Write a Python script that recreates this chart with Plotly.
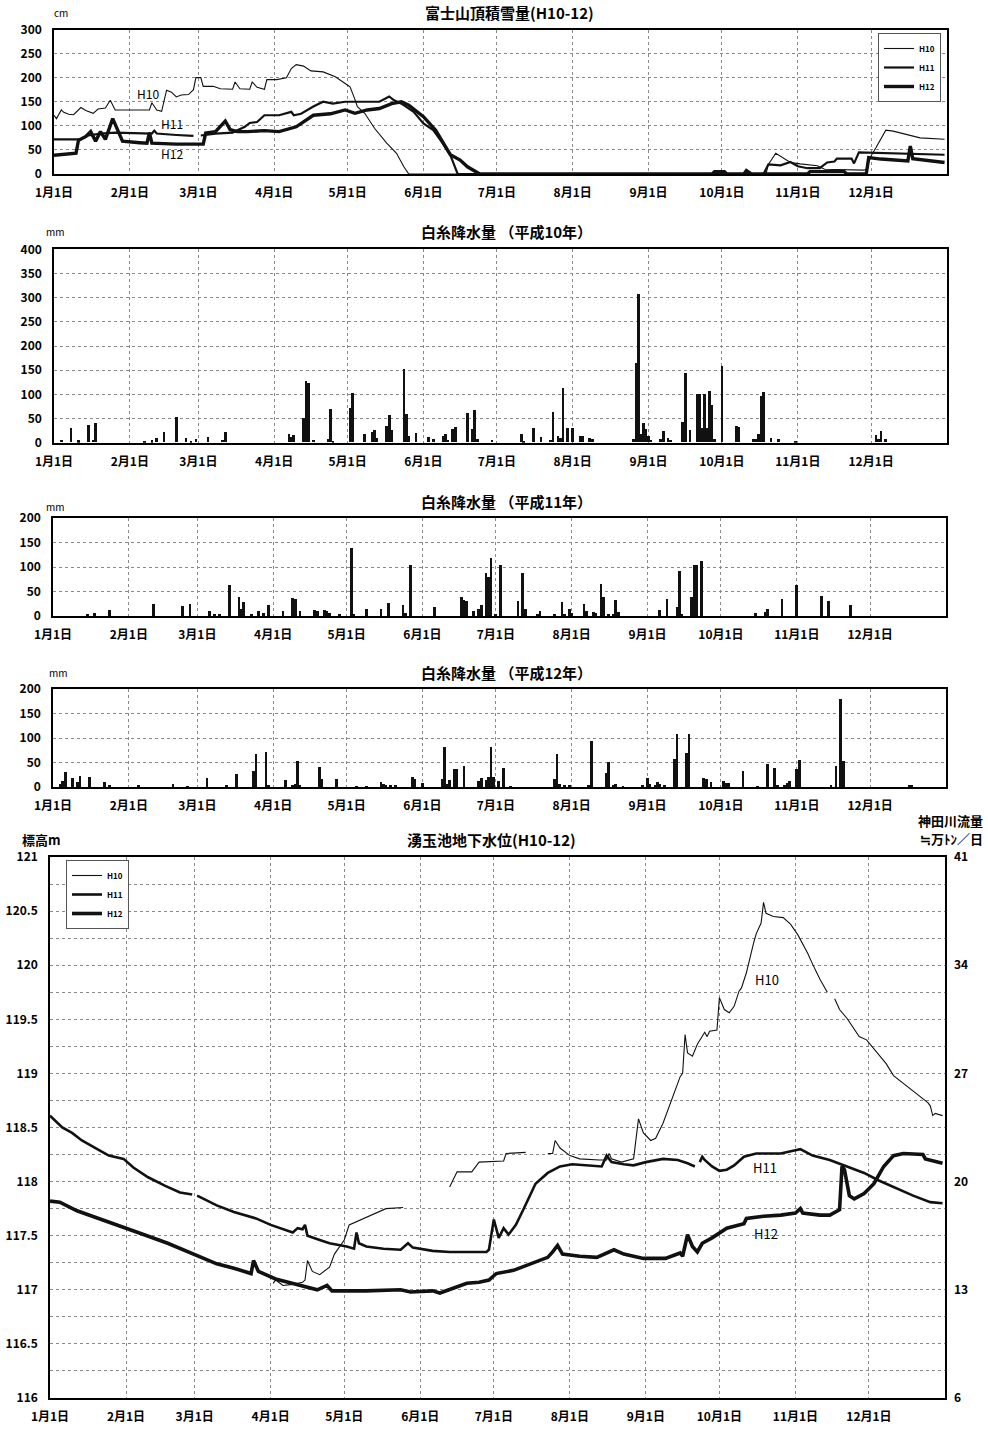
import plotly.graph_objects as go

YEAR = "2001-"
FONT = "Noto Sans CJK JP"

month_ticks = ["01-01", "02-01", "03-01", "04-01", "05-01", "06-01",
               "07-01", "08-01", "09-01", "10-01", "11-01", "12-01"]
month_labels = ["1月1日", "2月1日", "3月1日", "4月1日", "5月1日", "6月1日",
                "7月1日", "8月1日", "9月1日", "10月1日", "11月1日", "12月1日"]

# ---------------- 富士山頂積雪量 (cm) ----------------
snow_h10_dates = ["01-01", "01-02", "01-04", "01-05", "01-07", "01-09", "01-12", "01-14", "01-17", "01-19",
                  "01-22", "01-24", "01-26", "02-09", "02-10", "02-12", "02-14", "02-16", "02-18", "02-20",
                  "02-22", "02-25", "02-27", "02-28", "03-02", "03-03", "03-07", "03-10", "03-15", "03-16",
                  "03-18", "03-22", "03-23", "03-25", "03-28", "03-29", "04-02", "04-06", "04-08", "04-10",
                  "04-13", "04-16", "04-21", "04-26", "04-30", "05-02", "05-04", "05-05", "05-08", "05-12",
                  "05-17", "05-21", "05-24", "05-26", "10-19", "10-20", "10-23", "10-29", "11-02", "11-09",
                  "11-12", "11-28", "11-29", "12-01", "12-03", "12-07", "12-10", "12-16", "12-21", "12-31"]
snow_h10_cm = [122, 115, 133, 128, 124, 123, 138, 132, 126, 135,
               137, 153, 133, 133, 148, 133, 130, 174, 170, 160,
               164, 165, 175, 200, 200, 182, 182, 177, 176, 191,
               177, 176, 191, 180, 176, 196, 196, 200, 219, 227,
               224, 214, 212, 202, 188, 181, 155, 140, 126, 95,
               64, 43, 15, 0, 0, 20, 43, 24, 21, 17,
               10, 8, 10, 38, 55, 91, 89, 82, 75, 72]

snow_h11_dates = ["01-01", "01-12", "01-15", "01-20", "01-26", "02-05", "02-10", "02-11", "02-12", "02-20",
                  "02-27", "02-28", "03-02", "03-08", "03-15", "03-20", "03-22", "03-25", "03-28", "04-03",
                  "04-08", "04-09", "04-12", "04-17", "04-21", "04-25", "04-30", "05-14", "05-18", "05-20",
                  "05-23", "05-28", "06-01", "06-05", "06-09", "06-12", "06-15", "10-18", "10-20", "10-25",
                  "10-29", "11-01", "11-05", "11-10", "11-13", "11-16", "11-17", "11-23", "11-24", "11-26",
                  "12-31"]
snow_h11_cm = [72, 72, 80, 84, 86, 85, 84, 90, 84, 81,
               79, None, 80, 84, 86, 98, 106, 108, 122, 122,
               129, 122, 125, 140, 150, 146, 150, 150, 161, 153,
               146, 129, 105, 91, 63, 39, 0, 0, 20, 18,
               25, 16, 12, 12, 24, 26, 32, 32, 22, 45,
               40]

snow_h12_dates = ["01-01", "01-10", "01-11", "01-14", "01-16", "01-18", "01-20", "01-22", "01-25", "01-27",
                  "01-29", "02-05", "02-08", "02-09", "02-10", "02-20", "03-03", "03-04", "03-08", "03-12",
                  "03-14", "03-17", "03-21", "03-28", "04-03", "04-10", "04-17", "04-24", "04-30", "05-04",
                  "05-09", "05-14", "05-19", "05-23", "05-26", "06-01", "06-06", "06-10", "06-12", "06-16",
                  "06-19", "06-23", "06-24", "09-27", "09-28", "10-02", "10-03", "10-10", "10-11", "10-13",
                  "11-05", "11-06", "11-20", "11-21", "11-29", "11-30", "12-05", "12-16", "12-17", "12-18",
                  "12-22", "12-31"]
snow_h12_cm = [39, 43, 70, 78, 88, 68, 88, 72, 115, 90,
               68, 65, 64, 86, 64, 62, 62, 85, 88, 110,
               92, 88, 88, 90, 88, 98, 122, 125, 133, 126,
               133, 136, 146, 150, 143, 119, 91, 57, 40, 29,
               15, 3, 0, 0, 5, 5, 0, 0, 7, 0,
               0, 5, 5, 0, 0, 34, 31, 27, 58, 32,
               30, 24]

# ---------------- 白糸降水量 (mm) ----------------
rain_h10_dates = ["01-04", "01-08", "01-11", "01-15", "01-17", "01-18", "02-07", "02-10", "02-12", "02-15",
                  "02-20", "02-24", "02-26", "02-28", "03-05", "03-11", "03-12", "04-07", "04-08", "04-09",
                  "04-13", "04-14", "04-15", "04-17", "04-23", "04-24", "04-25", "05-02", "05-03", "05-08",
                  "05-11", "05-12", "05-13", "05-17", "05-18", "05-19", "05-24", "05-25", "05-26", "05-29",
                  "06-03", "06-05", "06-09", "06-10", "06-11", "06-13", "06-14", "06-19", "06-21", "06-22",
                  "06-23", "06-29", "07-11", "07-12", "07-16", "07-19", "07-23", "07-24", "07-26", "07-27",
                  "07-28", "07-30", "08-01", "08-04", "08-05", "08-08", "08-09", "08-26", "08-27", "08-28",
                  "08-29", "08-30", "08-31", "09-01", "09-02", "09-06", "09-07", "09-09", "09-10", "09-15",
                  "09-16", "09-18", "09-21", "09-22", "09-23", "09-24", "09-25", "09-26", "09-27", "09-28",
                  "10-01", "10-07", "10-08", "10-14", "10-15", "10-16", "10-17", "10-18", "10-21", "10-24",
                  "10-31", "12-03", "12-04", "12-05", "12-07"]
rain_h10_mm = [5, 30, 4, 37, 5, 40, 3, 4, 9, 21,
               52, 9, 3, 8, 12, 5, 21, 17, 11, 16,
               50, 128, 122, 6, 8, 70, 3, 71, 103, 18,
               21, 25, 9, 33, 57, 26, 152, 59, 14, 19,
               12, 7, 14, 17, 5, 28, 32, 61, 28, 67,
               8, 5, 17, 3, 29, 12, 5, 63, 14, 10,
               113, 29, 29, 14, 14, 9, 8, 7, 165, 307,
               17, 40, 28, 14, 5, 7, 24, 9, 5, 43,
               144, 25, 101, 101, 29, 101, 29, 107, 78, 7,
               158, 34, 31, 7, 8, 17, 96, 105, 10, 7,
               3, 15, 7, 24, 8]

rain_h11_dates = ["01-15", "01-18", "01-24", "02-11", "02-23", "02-26", "03-06", "03-08", "03-10", "03-14",
                  "03-18", "03-19", "03-20", "03-23", "03-26", "03-28", "03-30", "04-05", "04-09", "04-10",
                  "04-12", "04-18", "04-19", "04-22", "04-23", "04-24", "04-28", "05-03", "05-04", "05-09",
                  "05-15", "05-18", "05-24", "05-25", "05-27", "06-06", "06-17", "06-18", "06-19", "06-22",
                  "06-24", "06-25", "06-27", "06-28", "06-29", "07-01", "07-03", "07-10", "07-12", "07-13",
                  "07-18", "07-19", "07-25", "07-28", "07-29", "07-31", "08-01", "08-06", "08-07", "08-10",
                  "08-11", "08-13", "08-14", "08-16", "08-18", "08-19", "08-20", "09-06", "09-09", "09-13",
                  "09-14", "09-15", "09-19", "09-20", "09-21", "09-23", "10-15", "10-19", "10-20", "10-26",
                  "11-01", "11-11", "11-14", "11-23"]
rain_h11_mm = [3, 6, 12, 24, 20, 24, 10, 5, 5, 64,
               38, 15, 29, 5, 10, 6, 23, 10, 36, 34,
               10, 12, 10, 12, 10, 6, 5, 138, 5, 14,
               15, 27, 23, 7, 105, 18, 38, 32, 30, 10,
               15, 22, 87, 79, 118, 3, 104, 30, 87, 15,
               5, 10, 5, 29, 3, 15, 6, 24, 10, 8,
               6, 66, 38, 5, 5, 32, 8, 13, 34, 18,
               92, 5, 38, 104, 104, 113, 7, 8, 14, 34,
               64, 40, 30, 22]

rain_h12_dates = ["01-04", "01-05", "01-06", "01-09", "01-11", "01-12", "01-16", "01-22", "01-24", "02-05",
                  "02-19", "02-25", "03-05", "03-13", "03-17", "03-24", "03-25", "03-29", "03-30", "04-06",
                  "04-09", "04-10", "04-11", "04-12", "04-20", "04-21", "04-27", "05-05", "05-09", "05-15",
                  "05-16", "05-17", "05-19", "05-21", "05-28", "05-29", "06-01", "06-09", "06-10", "06-11",
                  "06-12", "06-14", "06-15", "06-18", "06-24", "06-25", "06-27", "06-28", "06-29", "06-30",
                  "07-02", "07-04", "07-07", "07-25", "07-26", "07-27", "07-29", "07-31", "08-08", "08-09",
                  "08-15", "08-16", "08-18", "08-19", "08-22", "08-30", "09-01", "09-02", "09-04", "09-05",
                  "09-06", "09-08", "09-12", "09-13", "09-17", "09-18", "09-24", "09-25", "09-27", "10-02",
                  "10-03", "10-04", "10-10", "10-16", "10-20", "10-23", "10-24", "10-27", "10-28", "10-29",
                  "11-01", "11-02", "11-15", "11-17", "11-19", "11-20", "12-17", "12-18"]
rain_h12_mm = [7, 12, 31, 19, 10, 22, 21, 10, 3, 5,
               7, 2, 18, 3, 27, 33, 68, 72, 5, 14,
               5, 7, 53, 5, 40, 17, 17, 2, 2, 10,
               7, 5, 5, 5, 21, 17, 8, 17, 82, 7,
               15, 37, 36, 42, 12, 19, 14, 20, 81, 20,
               12, 38, 2, 17, 67, 7, 5, 5, 3, 93,
               28, 51, 5, 7, 2, 5, 18, 7, 3, 10,
               7, 5, 58, 108, 70, 108, 19, 16, 10, 12,
               8, 8, 32, 2, 46, 38, 5, 5, 8, 12,
               36, 55, 5, 43, 180, 53, 5, 5]

# ---------------- 湧玉池地下水位 (標高 m) ----------------
gw_h10_dates = ["04-02", "04-03", "04-06", "04-10", "04-14", "04-15", "04-16", "04-18", "04-21", "04-25",
                "04-27", "05-01", "05-03", "05-07", "05-13", "05-18", "05-25", "06-01", "06-13", "06-16",
                "06-22", "06-25", "07-05", "07-06", "07-14", "07-18", "07-23", "07-25", "07-26", "07-28",
                "08-01", "08-05", "08-13", "08-16", "08-17", "08-18", "08-22", "08-27", "08-29", "08-31",
                "09-03", "09-05", "09-08", "09-11", "09-15", "09-16", "09-17", "09-18", "09-20", "09-22",
                "09-25", "09-26", "09-27", "09-30", "10-01", "10-03", "10-05", "10-07", "10-09", "10-10",
                "10-12", "10-15", "10-16", "10-18", "10-19", "10-20", "10-23", "10-27", "10-30", "11-02",
                "11-06", "11-08", "11-11", "11-14", "11-15", "11-17", "11-19", "11-22", "11-27", "11-30",
                "12-06", "12-08", "12-11", "12-15", "12-19", "12-25", "12-26", "12-27", "12-28", "12-31"]
gw_h10_m = [117.06, 117.09, 117.04, 117.05, 117.07, 117.09, 117.27, 117.17, 117.14, 117.21,
            117.33, 117.46, 117.60, 117.64, 117.70, 117.75, 117.76, None, 117.95, 118.09,
            118.09, 118.18, 118.19, 118.26, 118.27, None, 118.26, 118.26, 118.38, 118.31,
            118.24, 118.21, 118.20, 118.20, 118.26, 118.21, 118.18, 118.21, 118.58, 118.45,
            118.38, 118.40, 118.54, 118.72, 118.97, 119.00, 119.36, 119.19, 119.16, 119.27,
            119.38, 119.34, 119.39, 119.40, 119.70, 119.59, 119.56, 119.62, 119.76, 119.79,
            119.93, 120.21, 120.29, 120.39, 120.58, 120.48, 120.45, 120.44, 120.38, 120.28,
            120.11, 120.01, 119.87, 119.75, None, 119.69, 119.59, 119.51, 119.34, 119.31,
            119.14, 119.09, 118.98, 118.91, 118.84, 118.73, 118.70, 118.61, 118.63, 118.61]

gw_h11_dates = ["01-01", "01-06", "01-10", "01-14", "01-21", "01-25", "01-31", "02-04", "02-10", "02-17",
                "02-23", "02-28", "03-01", "03-02", "03-10", "03-17", "03-26", "04-01", "04-06", "04-10",
                "04-12", "04-14", "04-15", "04-16", "04-21", "04-25", "05-02", "05-05", "05-06", "05-07",
                "05-10", "05-17", "05-24", "05-27", "05-29", "06-06", "06-13", "06-28", "06-29", "07-01",
                "07-03", "07-05", "07-07", "07-10", "07-13", "07-16", "07-18", "07-23", "07-28", "08-02",
                "08-08", "08-14", "08-16", "08-18", "08-23", "08-27", "09-01", "09-08", "09-14", "09-18",
                "09-21", "09-22", "09-23", "09-24", "09-25", "09-28", "10-01", "10-04", "10-07", "10-11",
                "10-16", "10-26", "11-01", "11-03", "11-08", "11-15", "11-22", "11-29", "12-05", "12-12",
                "12-19", "12-26", "12-31"]
gw_h11_m = [118.61, 118.50, 118.45, 118.38, 118.29, 118.24, 118.21, 118.13, 118.04, 117.96,
            117.90, 117.88, None, 117.87, 117.78, 117.72, 117.66, 117.60, 117.56, 117.53,
            117.57, 117.56, 117.60, 117.50, 117.46, 117.43, 117.40, 117.38, 117.53, 117.43,
            117.40, 117.38, 117.37, 117.43, 117.39, 117.36, 117.35, 117.35, 117.37, 117.65,
            117.48, 117.57, 117.51, 117.60, 117.74, 117.89, 117.98, 118.08, 118.14, 118.16,
            118.15, 118.14, 118.24, 118.18, 118.16, 118.15, 118.18, 118.21, 118.20, 118.17,
            118.14, None, 118.18, 118.23, 118.20, 118.14, 118.10, 118.11, 118.15, 118.23,
            118.26, 118.26, 118.29, 118.30, 118.24, 118.20, 118.14, 118.08, 118.01, 117.94,
            117.87, 117.81, 117.80]

gw_h12_dates = ["01-01", "01-05", "01-12", "01-21", "01-31", "02-07", "02-18", "03-02", "03-10", "03-17",
                "03-24", "03-25", "03-27", "04-03", "04-10", "04-14", "04-20", "04-24", "04-26", "05-10",
                "05-24", "05-28", "06-06", "06-09", "06-14", "06-20", "06-25", "06-29", "07-01", "07-02",
                "07-09", "07-16", "07-23", "07-25", "07-27", "07-29", "08-05", "08-12", "08-19", "08-23",
                "08-31", "09-09", "09-15", "09-16", "09-18", "09-20", "09-22", "09-24", "09-28", "10-04",
                "10-11", "10-12", "10-19", "10-26", "11-01", "11-03", "11-04", "11-11", "11-15", "11-19",
                "11-20", "11-21", "11-23", "11-25", "11-29", "12-03", "12-07", "12-11", "12-15", "12-23",
                "12-24", "12-31"]
gw_h12_m = [117.82, 117.81, 117.73, 117.66, 117.58, 117.52, 117.43, 117.32, 117.24, 117.20,
            117.15, 117.27, 117.17, 117.10, 117.06, 117.03, 117.00, 117.04, 116.99, 116.99,
            117.00, 116.98, 116.99, 116.97, 117.01, 117.06, 117.07, 117.09, 117.13, 117.15,
            117.18, 117.24, 117.30, 117.35, 117.41, 117.33, 117.31, 117.30, 117.37, 117.33,
            117.29, 117.29, 117.34, 117.31, 117.51, 117.40, 117.35, 117.43, 117.48, 117.57,
            117.61, 117.66, 117.68, 117.69, 117.71, 117.75, 117.71, 117.69, 117.69, 117.74,
            118.14, 118.11, 117.87, 117.84, 117.89, 117.98, 118.14, 118.24, 118.26, 118.25,
            118.21, 118.17]

flow_ticks = [6, 13, 20, 27, 34, 41]

# ---------------------------------------------------------------
W, H = 988, 1429


def px_x(p):
    return p / W


def px_y(p):
    return 1 - p / H


def dates(lst):
    return [YEAR + s for s in lst]


fig = go.Figure()

line_styles = {"H10": 1.1, "H11": 2.2, "H12": 3.4}
gw_styles = {"H10": 1.1, "H11": 2.6, "H12": 3.6}
INK = "#111111"

for name, ds, vs in [("H10", snow_h10_dates, snow_h10_cm),
                     ("H11", snow_h11_dates, snow_h11_cm),
                     ("H12", snow_h12_dates, snow_h12_cm)]:
    fig.add_trace(go.Scatter(x=dates(ds), y=vs, mode="lines", name=name,
                             line=dict(color=INK, width=line_styles[name]),
                             xaxis="x", yaxis="y", legend="legend"))

for i, (ds, vs) in enumerate([(rain_h10_dates, rain_h10_mm),
                              (rain_h11_dates, rain_h11_mm),
                              (rain_h12_dates, rain_h12_mm)]):
    n = i + 2
    fig.add_trace(go.Bar(x=dates(ds), y=vs, width=86400000 * 1.1,
                         marker=dict(color=INK, line=dict(width=0)),
                         showlegend=False, xaxis=f"x{n}", yaxis=f"y{n}"))

for name, ds, vs in [("H10", gw_h10_dates, gw_h10_m),
                     ("H11", gw_h11_dates, gw_h11_m),
                     ("H12", gw_h12_dates, gw_h12_m)]:
    fig.add_trace(go.Scatter(x=dates(ds), y=vs, mode="lines", name=name,
                             line=dict(color=INK, width=gw_styles[name]),
                             xaxis="x5", yaxis="y5", legend="legend2"))

tick_font = dict(family=FONT, size=12, color="black", weight="bold")
grid = dict(showgrid=True, gridcolor="#8a8a8a", griddash="dot", gridwidth=1)
frame = dict(showline=True, mirror=True, linecolor="black", linewidth=1.5, zeroline=False,
             automargin=False)


def xaxis(x0, x1, anchor):
    return dict(type="date", range=[YEAR + "01-01", "2002-01-01"], domain=[px_x(x0), px_x(x1)],
                tickvals=dates(month_ticks), ticktext=month_labels, tickfont=tick_font,
                ticks="", ticklabelstandoff=7, anchor=anchor, fixedrange=True, **grid, **frame)


def yaxis(y_top, y_bot, rng, dtick, anchor, minor=None):
    d = dict(range=rng, dtick=dtick, domain=[px_y(y_bot), px_y(y_top)], tickfont=tick_font,
             ticks="", ticklabelstandoff=8, anchor=anchor, **grid, **frame)
    if minor:
        d["minor"] = dict(dtick=minor, showgrid=True, gridcolor="#8a8a8a", griddash="dot", gridwidth=1)
    return d


layout = dict(
    width=W, height=H, margin=dict(l=0, r=0, t=0, b=0, autoexpand=False),
    paper_bgcolor="white", plot_bgcolor="white",
    font=dict(family=FONT, color="black"),
    xaxis=xaxis(54, 947, "y"),
    yaxis=yaxis(29.5, 174, [0, 300], 50, "x"),
    xaxis2=xaxis(54, 947, "y2"),
    yaxis2=yaxis(249.3, 442.7, [0, 400], 50, "x2"),
    xaxis3=xaxis(53, 946, "y3"),
    yaxis3=yaxis(518, 616, [0, 200], 50, "x3"),
    xaxis4=xaxis(53, 946, "y4"),
    yaxis4=yaxis(689, 787, [0, 200], 50, "x4"),
    xaxis5=xaxis(50, 945, "y5"),
    yaxis5=yaxis(857, 1398, [116, 121], 0.5, "x5", minor=0.25),
    yaxis6=dict(overlaying="y5", side="right", anchor="x5", range=[6, 41], tickvals=flow_ticks,
                tickfont=tick_font, ticks="", ticklabelstandoff=8, showgrid=False, zeroline=False,
                showline=False, automargin=False),
    bargap=0,
    legend=dict(x=px_x(941), y=px_y(33), xanchor="right", yanchor="top",
                bgcolor="white", bordercolor="#555", borderwidth=1,
                font=dict(family=FONT, size=8, weight="bold"), itemwidth=30, tracegroupgap=0),
    legend2=dict(x=px_x(66), y=px_y(860), xanchor="left", yanchor="top",
                 bgcolor="white", bordercolor="#555", borderwidth=1,
                 font=dict(family=FONT, size=8, weight="bold"), itemwidth=30, tracegroupgap=0),
)
fig.update_layout(**layout)

# the right-hand flow axis is shown through an empty trace bound to it
fig.add_trace(go.Scatter(x=[None], y=[None], xaxis="x5", yaxis="y6", showlegend=False,
                         hoverinfo="skip"))


def text(s, x, y, size=15, bold=True, xanchor="center"):
    fig.add_annotation(text=s, x=px_x(x), y=px_y(y), xref="paper", yref="paper",
                       xanchor=xanchor, yanchor="middle", showarrow=False,
                       font=dict(family=FONT, size=size, color="black",
                                 weight="bold" if bold else "normal"))


text("富士山頂積雪量(H10-12)", 509, 13)
text("cm", 61, 13, size=10, bold=False)
text("白糸降水量 （平成10年）", 506, 231)
text("mm", 55, 231, size=10, bold=False)
text("白糸降水量 （平成11年）", 506, 502)
text("mm", 55, 506, size=10, bold=False)
text("白糸降水量 （平成12年）", 506, 672)
text("mm", 58, 672, size=10, bold=False)
text("湧玉池地下水位(H10-12)", 491, 839)
text("標高m", 41, 839, size=13)
text("神田川流量", 985, 821, size=13, xanchor="right")
text("≒万ﾄﾝ／日", 985, 838, size=13, xanchor="right")

text("H10", 148, 94, size=12, bold=False)
text("H11", 172, 123, size=12, bold=False)
text("H12", 172, 154, size=12, bold=False)
text("H10", 767, 980, size=13, bold=False)
text("H11", 765, 1167, size=13, bold=False)
text("H12", 766, 1233, size=13, bold=False)

fig.write_html("out.html")
